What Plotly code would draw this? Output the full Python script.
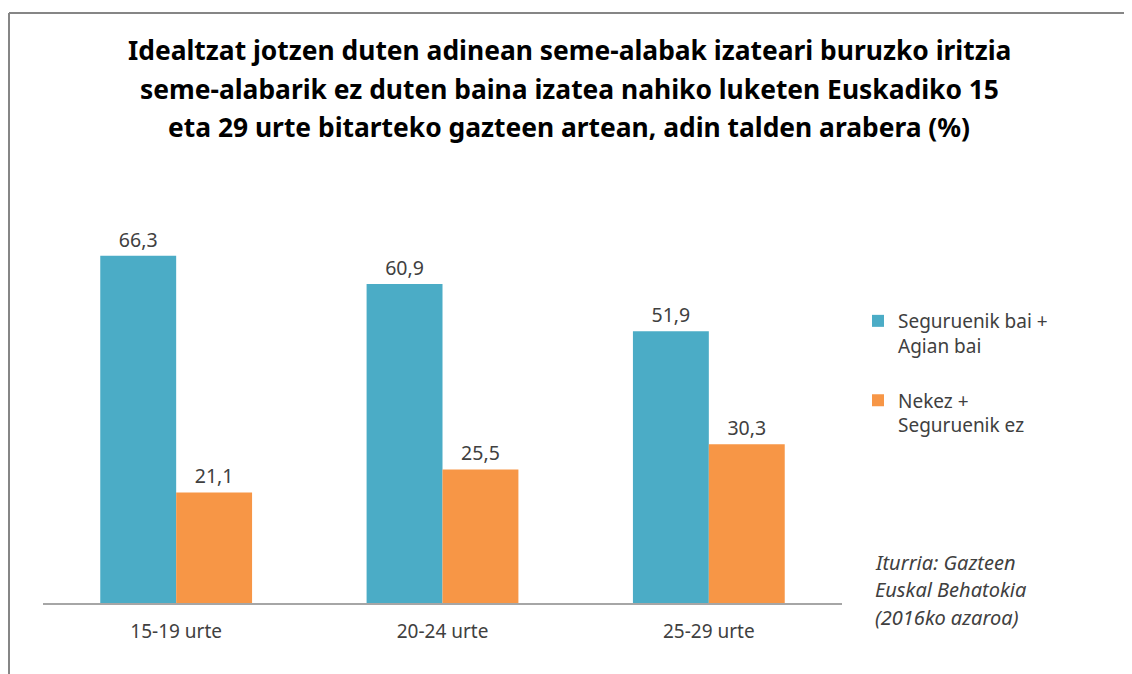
import plotly.graph_objects as go

categories = ["15-19 urte", "20-24 urte", "25-29 urte"]
series_names = ["Seguruenik bai +<br>Agian bai", "Nekez +<br>Seguruenik ez"]
values_bai = [66.3, 60.9, 51.9]
values_ez = [21.1, 25.5, 30.3]
colors = ["#4BACC6", "#F79646"]

title_lines = [
    "Idealtzat jotzen duten adinean seme-alabak izateari buruzko iritzia",
    "seme-alabarik ez duten baina izatea nahiko luketen Euskadiko 15",
    "eta 29 urte bitarteko gazteen artean, adin talden arabera (%)",
]
source_lines = ["Iturria: Gazteen", "Euskal Behatokia", "(2016ko azaroa)"]

W, H = 1132, 674
OFF = 8  # page body margin offset
# plot area in screen (reference) pixels
PX0, PX1, PY0, PY1 = 43, 842, 184, 603
L = PX0 - OFF
R = W - (PX1 - OFF)
T = PY0 - OFF
B = H - (PY1 - OFF)
pw, ph = PX1 - PX0, PY1 - PY0

def px_x(x):
    return (x - PX0) / pw

def px_y(y):
    return (PY1 - y) / ph

FONT = "Noto Sans"

fig = go.Figure()
for i, (name, vals, col) in enumerate(zip(series_names, [values_bai, values_ez], colors)):
    fig.add_trace(go.Bar(
        x=categories, y=vals, name=name, legendgroup="g%d" % i,
        marker=dict(color=col, line=dict(width=0)),
        texttemplate="%{y:.1f}", textposition="outside",
        textfont=dict(family=FONT, size=19.5, color="#404040"),
        cliponaxis=False,
    ))

annotations = []
for i, line in enumerate(title_lines):
    annotations.append(dict(
        text="<b>" + line + "</b>", x=px_x(569), y=px_y(50 + 38.5 * i),
        xref="paper", yref="paper", xanchor="center", yanchor="middle",
        showarrow=False, font=dict(family=FONT, size=26.4, color="#000000"),
    ))
for i, line in enumerate(source_lines):
    annotations.append(dict(
        text="<i>" + line + "</i>", x=px_x(873), y=px_y(562 + 27.5 * i),
        xref="paper", yref="paper", xanchor="left", yanchor="middle",
        showarrow=False, font=dict(family=FONT, size=20, color="#404040"),
    ))

shapes = [
    dict(type="line", xref="paper", yref="paper", x0=px_x(9), x1=px_x(1150),
         y0=px_y(13), y1=px_y(13), line=dict(color="#868686", width=2)),
    dict(type="line", xref="paper", yref="paper", x0=px_x(9), x1=px_x(9),
         y0=px_y(13), y1=px_y(690), line=dict(color="#868686", width=2)),
]

fig.update_layout(
    width=W, height=H,
    margin=dict(l=L, r=R, t=T, b=B, pad=0),
    paper_bgcolor="white", plot_bgcolor="white",
    separators=",.",
    barmode="group", bargap=0.43, bargroupgap=0,
    font=dict(family=FONT, color="#404040"),
    showlegend=True,
    legend=dict(
        x=px_x(858), y=px_y(302), xanchor="left", yanchor="top",
        xref="paper", yref="paper", valign="top",
        font=dict(family=FONT, size=19, color="#404040"),
        tracegroupgap=27, bgcolor="rgba(0,0,0,0)", itemwidth=30,
    ),
    annotations=annotations,
    shapes=shapes,
    xaxis=dict(
        showline=True, linecolor="#A6A6A6", linewidth=1.5,
        ticks="", showgrid=False, zeroline=False,
        tickfont=dict(family=FONT, size=19, color="#404040"),
        ticklabelstandoff=10,
    ),
    yaxis=dict(range=[0, 80], visible=False, showgrid=False, zeroline=False),
)

fig.write_html("out.html")
